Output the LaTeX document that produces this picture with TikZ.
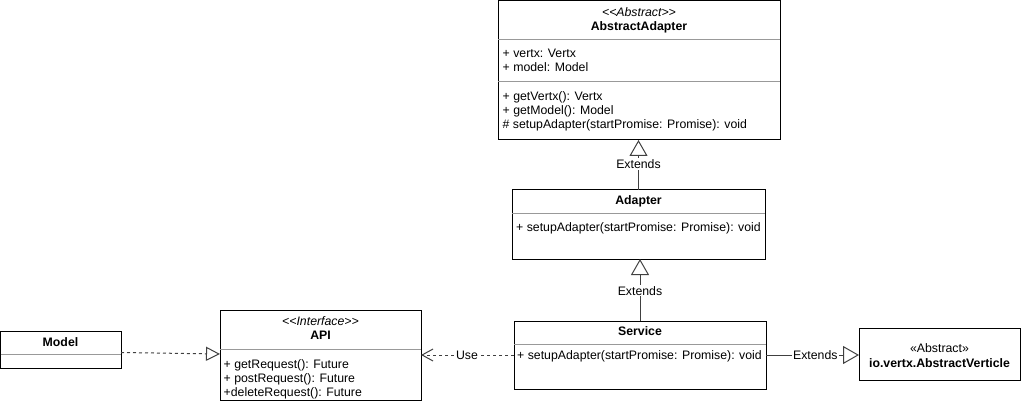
\documentclass[tikz,border=0pt]{standalone}
\usepackage{fontspec}
\setmainfont{Liberation Sans}
\usetikzlibrary{arrows.meta,positioning}
\tikzset{
  classbox/.style={draw, line width=1pt, inner sep=0pt, outer sep=0pt, anchor=north west},
  sepline/.style={draw=black!40, line width=1pt},
  member/.style={inner sep=0pt, anchor=base west, font=\fontsize{12.3}{14}\selectfont},
  classname/.style={inner sep=0pt, anchor=base, font=\fontsize{12.3}{14}\selectfont\bfseries},
  stereo/.style={inner sep=0pt, anchor=base, font=\fontsize{12.3}{14}\selectfont\itshape},
  extends/.style={draw=black!75, line width=1pt, -{Triangle[open, length=16pt, width=18pt]}},
  realizes/.style={draw=black!75, line width=1pt, dash pattern=on 3pt off 3pt, -{Triangle[open, length=14pt, width=14pt]}},
  uses/.style={draw=black!75, line width=1pt, dash pattern=on 3pt off 3pt, -{Straight Barb[length=11pt, width=12pt]}},
  edgelabel/.style={fill=white, inner sep=1pt, font=\fontsize{12.3}{14}\selectfont}
}

\begin{document}
\begin{tikzpicture}[x=1pt, y=-1pt]
                \useasboundingbox (0,0) rectangle (1021,401);

                %class boxes first
                \node (aa) at (498,1) [classbox, minimum width=282pt, minimum height=139pt]{};
                \node (ad) at (512,190) [classbox, minimum width=253pt, minimum height=69pt]{};
                \node (sv) at (514,321) [classbox, minimum width=252pt, minimum height=68pt]{};
                \node (av) at (859,328) [classbox, minimum width=161pt, minimum height=52pt]{};
                \node (api) at (220,310) [classbox, minimum width=201pt, minimum height=90pt]{};
                \node (mo) at (0.5,331) [classbox, minimum width=120.5pt, minimum height=37pt]{};

                %compartment lines
                \draw[sepline] ([yshift=-38.5pt]aa.north west) -- ([yshift=-38.5pt]aa.north east);
                \draw[sepline] ([yshift=-81pt]aa.north west) -- ([yshift=-81pt]aa.north east);
                \draw[sepline] ([yshift=-24pt]ad.north west) -- ([yshift=-24pt]ad.north east);
                \draw[sepline] ([yshift=-23pt]sv.north west) -- ([yshift=-23pt]sv.north east);
                \draw[sepline] ([yshift=-39pt]api.north west) -- ([yshift=-39pt]api.north east);
                \draw[sepline] ([yshift=-23pt]mo.north west) -- ([yshift=-23pt]mo.north east);

                %AbstractAdapter
                \node (aaster) at (639,16.5) [stereo]{<\kern0pt<Abstract>\kern0pt>};
                \node (aaname) at (639,31) [classname]{AbstractAdapter};
                \node (aavertx) at (502.5,58) [member]{+ vertx: Vertx};
                \node (aamodel) at (502.5,72) [member]{+ model: Model};
                \node (aagetv) at (502.5,101) [member]{+ getVertx(): Vertx};
                \node (aagetm) at (502.5,115) [member]{+ getModel(): Model};
                \node (aasetup) at (502.5,129) [member]{\# setupAdapter(startPromise: Promise): void};

                %Adapter and Service
                \node (adname) at (638.5,205) [classname]{Adapter};
                \node (adsetup) at (516,232) [member]{+ setupAdapter(startPromise: Promise): void};
                \node (svname) at (640,335) [classname]{Service};
                \node (svsetup) at (517,359) [member]{+ setupAdapter(startPromise: Promise): void};

                %io.vertx.AbstractVerticle
                \node (avster) at (939.5,352.5) [inner sep=0pt, anchor=base, font=\fontsize{12.3}{14}\selectfont]{«Abstract»};
                \node (avname) at (939.5,367.5) [classname]{io.vertx.AbstractVerticle};

                %API interface
                \node (apister) at (320.5,325) [stereo]{<\kern0pt<Interface>\kern0pt>};
                \node (apiname) at (320.5,339) [classname]{API};
                \node (apiget) at (223.5,368) [member]{+ getRequest(): Future};
                \node (apipost) at (223.5,382) [member]{+ postRequest(): Future};
                \node (apidel) at (223.5,396) [member]{+deleteRequest(): Future};

                %Model
                \node (moname) at (60.5,346) [classname]{Model};

                %inheritance
                \draw[extends] (ad.north) -- node[edgelabel, pos=0.52] (ext1) {Extends} (ad.north |- aa.south);
                \draw[extends] (sv.north) -- node[edgelabel, pos=0.49] (ext2) {Extends} (sv.north |- ad.south);
                \draw[extends] (sv.east) -- node[edgelabel, pos=0.53] (ext3) {Extends} (sv.east -| av.west);

                %dependency and realization
                \draw[uses] (sv.west) -- node[edgelabel, pos=0.505] (use) {Use} (api.east);
                \draw[realizes] ([yshift=-3pt]mo.east) -- ([yshift=1pt]api.west);
\end{tikzpicture}
\end{document}
